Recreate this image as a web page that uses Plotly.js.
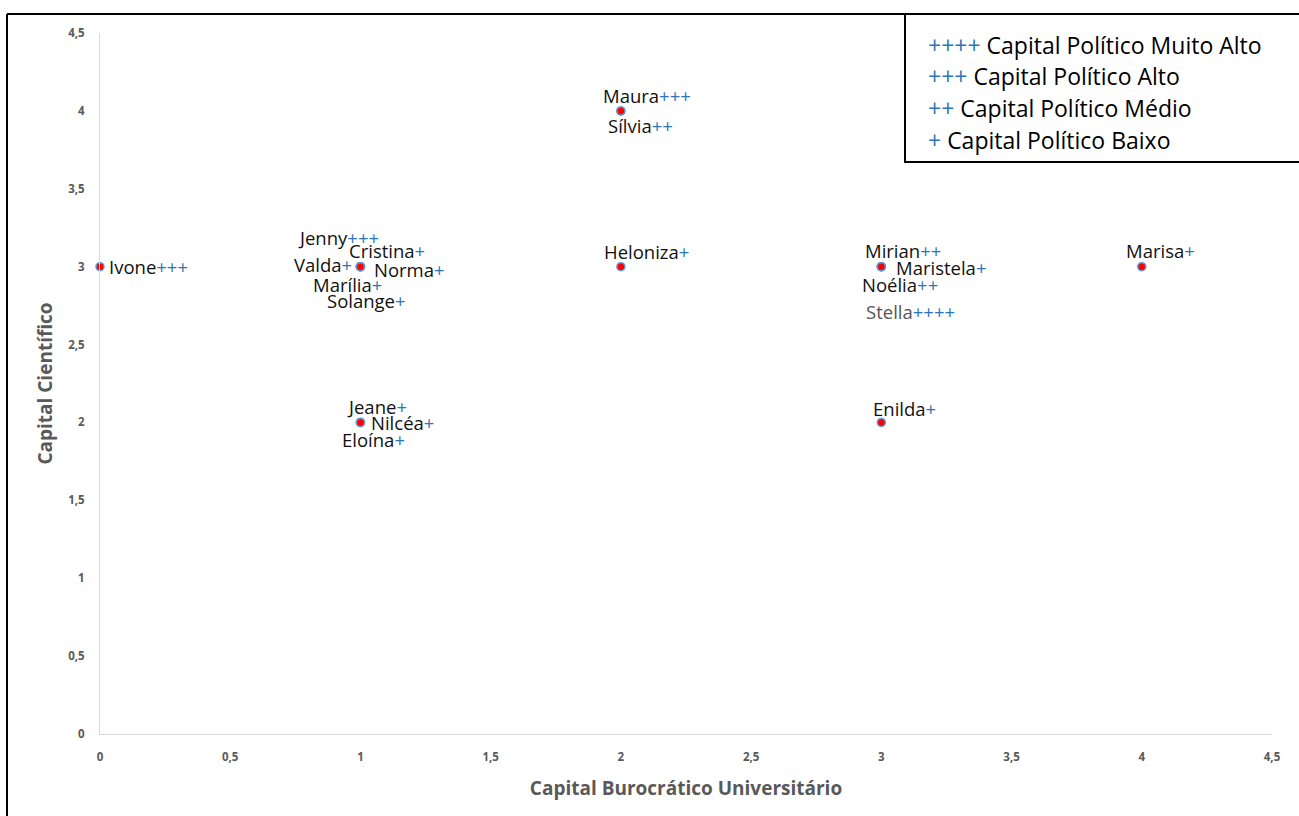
<!DOCTYPE html>
<html>
<head>
<meta charset="utf-8">
<script src="https://cdn.plot.ly/plotly-3.0.1.min.js"></script>
<style>
  html, body { margin: 0; padding: 0; background: #fff; }
  #chart { width: 1299px; height: 816px; }
</style>
</head>
<body>
<div id="chart"></div>
<script>
// Pesquisadoras: capital burocrático universitário (x), capital científico (y)
// e nível de capital político (quantidade de "+").
const names       = ["Ivone", "Jenny", "Cristina", "Valda", "Norma", "Marília", "Solange",
                     "Maura", "Sílvia", "Heloniza", "Mirian", "Maristela", "Noélia", "Stella",
                     "Marisa", "Jeane", "Nilcéa", "Eloína", "Enilda"];
const burocratico = [0, 1, 1, 1, 1, 1, 1, 2, 2, 2, 3, 3, 3, 3, 4, 1, 1, 1, 3];
const cientifico  = [3, 3, 3, 3, 3, 3, 3, 4, 4, 3, 3, 3, 3, 3, 3, 2, 2, 2, 2];
const politico    = [3, 3, 1, 1, 1, 1, 1, 3, 2, 1, 2, 1, 2, 4, 1, 1, 1, 1, 1];

const xTicks = [0, 0.5, 1, 1.5, 2, 2.5, 3, 3.5, 4, 4.5];
const yTicks = [0, 0.5, 1, 1.5, 2, 2.5, 3, 3.5, 4, 4.5];
const tickText = v => String(v).replace(".", ",");

const legendLevels = [4, 3, 2, 1];
const legendLabels = ["Capital Político Muito Alto", "Capital Político Alto",
                      "Capital Político Médio", "Capital Político Baixo"];

// label placement around each point (pixels: right, up)
const labelShift = [
  [7, 0], [-64, 29], [-13, 16], [-68, 2], [12, -3], [-49, -18], [-35, -34],
  [-20, 15], [-15, -15], [-19, 15], [-18, 16], [13, -1], [-21, -18], [-17, -45],
  [-18, 16], [-15, 16], [9, 0], [-20, -17], [-10, 14]
];

const BLUE = "#2E75B6";
const FONT = "Open Sans, sans-serif";
const plus = n => "<span style='color:" + BLUE + "'>" + "+".repeat(n) + "</span>";

// plot area geometry in pixels
const M = { l: 100, r: 27, t: 33, b: 82 };
const W = 1299, H = 816;
const PW = W - M.l - M.r, PH = H - M.t - M.b;
const px2x = px => (px - M.l) / PW;
const px2y = py => (H - M.b - py) / PH;

const annotations = names.map((n, i) => ({
  x: burocratico[i], y: cientifico[i], xref: "x", yref: "y",
  xanchor: "left", yanchor: "middle", showarrow: false,
  xshift: labelShift[i][0], yshift: labelShift[i][1],
  text: (n === "Stella" ? "<span style='color:#555'>" + n + "</span>" : n) + plus(politico[i]),
  font: { family: FONT, size: 18.5, color: "#111" }
}));

const legendRows = [45, 76, 108, 140];
legendLevels.forEach((lv, i) => {
  annotations.push({
    x: px2x(926), y: px2y(legendRows[i]), xref: "paper", yref: "paper",
    xanchor: "left", yanchor: "middle", showarrow: false,
    text: plus(lv) + " " + legendLabels[i],
    font: { family: FONT, size: 23, color: "#000" }
  });
});

const shapes = [
  // outer frame (left and top edges)
  { type: "line", xref: "paper", yref: "paper", x0: px2x(7), x1: px2x(7), y0: px2y(830), y1: px2y(14),
    line: { color: "#000", width: 2 } },
  { type: "line", xref: "paper", yref: "paper", x0: px2x(7), x1: px2x(1310), y0: px2y(14), y1: px2y(14),
    line: { color: "#000", width: 2 } },
  // legend box
  { type: "rect", xref: "paper", yref: "paper", x0: px2x(905), x1: px2x(1310), y0: px2y(162), y1: px2y(14),
    line: { color: "#000", width: 2 }, fillcolor: "#fff" }
];

const trace = {
  type: "scatter", mode: "markers",
  x: burocratico, y: cientifico, text: names,
  marker: { color: "#ff0000", size: 8, line: { color: "#5B9BD5", width: 1.5 } },
  hoverinfo: "text+x+y", cliponaxis: false
};

const axisCommon = {
  showgrid: false, zeroline: false, showline: true, linecolor: "#d9d9d9", linewidth: 1,
  ticks: "", tickfont: { family: FONT, size: 11.5, color: "#595959", weight: "bold" }
};

const layout = {
  width: W, height: H,
  margin: M,
  paper_bgcolor: "#fff", plot_bgcolor: "#fff",
  showlegend: false,
  xaxis: Object.assign({}, axisCommon, {
    range: [0, 4.5], autorange: false, tickvals: xTicks, ticktext: xTicks.map(tickText),
    ticklabelstandoff: 12,
    title: { text: "Capital Burocrático Universitário", standoff: 18,
             font: { family: FONT, size: 19, color: "#595959", weight: "bold" } }
  }),
  yaxis: Object.assign({}, axisCommon, {
    range: [0, 4.5], autorange: false, tickvals: yTicks, ticktext: yTicks.map(tickText),
    ticklabelstandoff: 12,
    title: { text: "Capital Científico", standoff: 10,
             font: { family: FONT, size: 19, color: "#595959", weight: "bold" } }
  }),
  annotations: annotations,
  shapes: shapes
};

Plotly.newPlot("chart", [trace], layout, { staticPlot: true });
</script>
</body>
</html>
